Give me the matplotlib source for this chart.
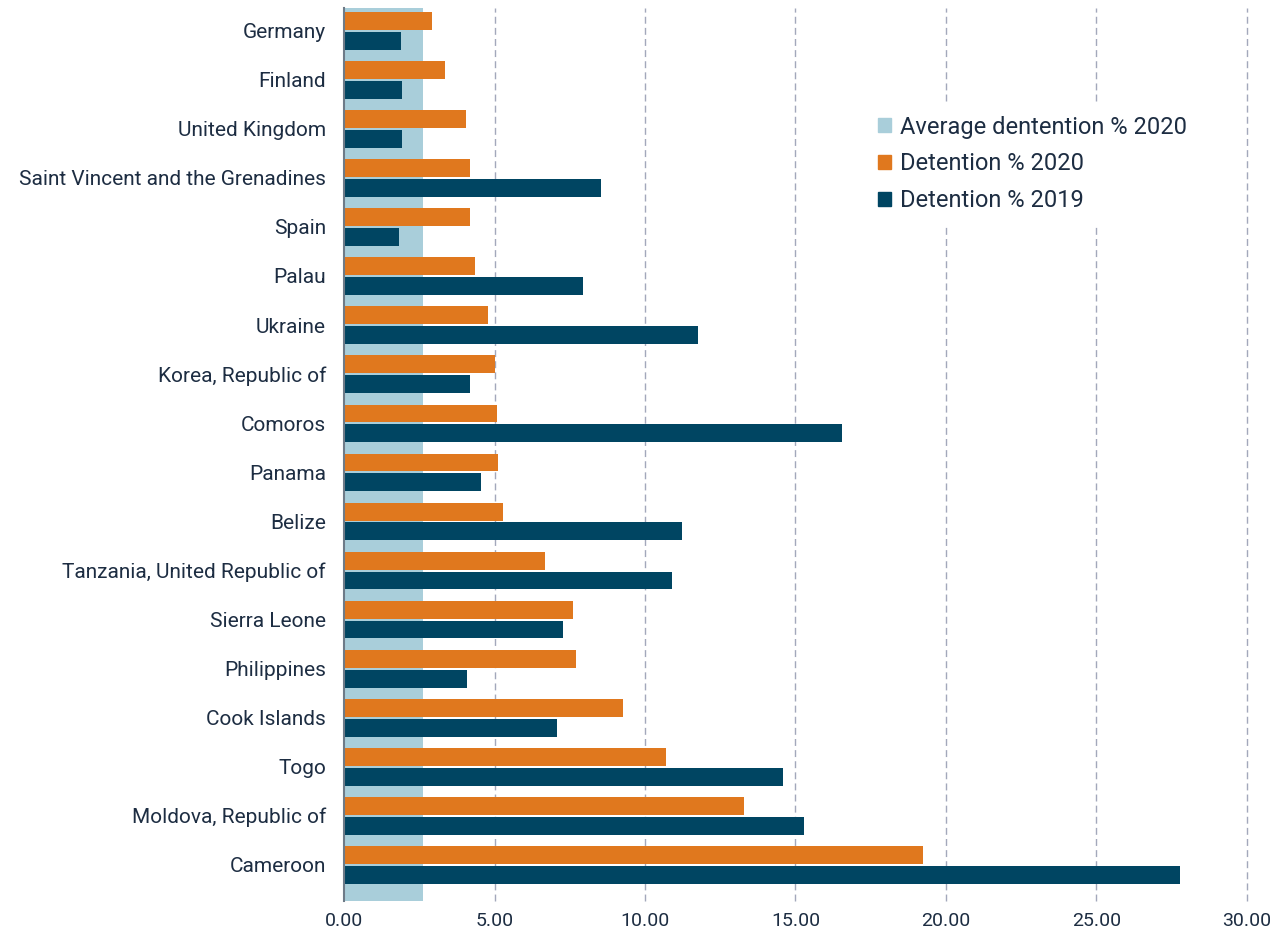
import matplotlib.pyplot as plt
import numpy as np

countries = ["Germany", "Finland", "United Kingdom", "Saint Vincent and the Grenadines",
             "Spain", "Palau", "Ukraine", "Korea, Republic of", "Comoros", "Panama",
             "Belize", "Tanzania, United Republic of", "Sierra Leone", "Philippines",
             "Cook Islands", "Togo", "Moldova, Republic of", "Cameroon"]
det_2020 = [2.92, 3.36, 4.05, 4.19, 4.19, 4.35, 4.78, 5.02, 5.08, 5.12,
            5.28, 6.68, 7.61, 7.71, 9.27, 10.70, 13.29, 19.24]
det_2019 = [1.89, 1.93, 1.93, 8.54, 1.83, 7.94, 11.76, 4.19, 16.54, 4.55,
            11.23, 10.90, 7.28, 4.09, 7.08, 14.58, 15.28, 27.77]
avg_2020 = [2.62] * len(countries)
xticks = [0, 5, 10, 15, 20, 25, 30]

c_avg = "#a9ceda"
c_2020 = "#e0781e"
c_2019 = "#004562"
txt = "#1d2d42"

plt.rcParams['font.family'] = ['Roboto', 'DejaVu Sans']

fig = plt.figure(figsize=(12.84, 9.32), dpi=100)
rect = [0.268, 0.0333, 0.703, 0.958]

# background axes for the average band (its own category spacing)
bg = fig.add_axes(rect)
n = len(countries)
y = np.arange(n)
bg.barh(y, avg_2020, height=1.0, color=c_avg)
bg.set_xlim(0, 30)
bg.set_ylim(n - 0.5, -0.5)
bg.axis('off')

ax = fig.add_axes(rect)
ax.patch.set_alpha(0)
h = 0.365
ax.barh(y - 0.237, det_2020, height=h, color=c_2020, zorder=3)
ax.barh(y + 0.167, det_2019, height=h, color=c_2019, zorder=3)

ax.set_xlim(0, 30)
ax.set_ylim(n - 0.3, -0.5)
ax.set_xticks(xticks)
ax.set_xticklabels([f"{t:.2f}" for t in xticks])
ax.set_yticks(y - 0.04)
ax.set_yticklabels(countries)
ax.tick_params(axis='both', length=0, colors=txt)
ax.tick_params(axis='y', pad=13, labelsize=15)
ax.tick_params(axis='x', pad=8, labelsize=14)

for x in xticks[1:]:
    ax.axvline(x, color="#a3a8bb", lw=1, ls=(0, (5, 3)), zorder=0.5, clip_on=False)

for s in ["top", "right", "bottom"]:
    ax.spines[s].set_visible(False)
ax.spines["left"].set_color("#6e7b88")
ax.spines["left"].set_linewidth(1.5)
ax.spines["left"].set_zorder(4)

handles = [plt.Rectangle((0, 0), 1, 1, color=c) for c in (c_avg, c_2020, c_2019)]
labels = ["Average dentention % 2020", "Detention % 2020", "Detention % 2019"]
leg = ax.legend(handles, labels, loc="upper left", bbox_to_anchor=(0.565, 0.906), frameon=True,
                fontsize=17, handlelength=0.55, handleheight=0.55, handletextpad=0.4,
                labelspacing=0.585, borderpad=0.5, labelcolor=txt)
leg.get_frame().set_facecolor("white")
leg.get_frame().set_edgecolor("white")
leg.get_frame().set_alpha(1)
leg.set_zorder(5)

fig.savefig("out.png", dpi=100)
